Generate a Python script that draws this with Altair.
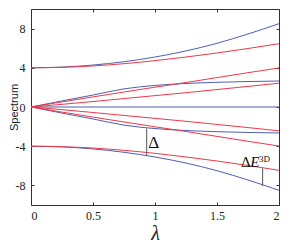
import altair as alt
import pandas as pd

# lambda grid
lam = [0, 0.25, 0.5, 0.75, 1.0, 1.25, 1.5, 1.75, 2.0]

# blue (exact) levels
blue_upper = [4.0, 4.07, 4.28, 4.62, 5.1, 5.72, 6.5, 7.45, 8.5]
blue_mid = [0.0, 0.62, 1.22, 1.85, 2.2, 2.4, 2.52, 2.6, 2.65]
blue_zero = [0, 0, 0, 0, 0, 0, 0, 0, 0]
blue_low = [0.0, -0.62, -1.22, -1.85, -2.2, -2.4, -2.52, -2.6, -2.65]
blue_bottom = [-4.0, -4.07, -4.28, -4.62, -5.1, -5.72, -6.5, -7.45, -8.5]

# red levels
red_upper = [4.0, 4.05, 4.19, 4.42, 4.73, 5.1, 5.51, 5.97, 6.46]
red_steep = [0.0, 0.52, 1.03, 1.53, 2.02, 2.5, 3.0, 3.5, 3.98]
red_mod = [0.0, 0.27, 0.56, 0.86, 1.16, 1.46, 1.78, 2.1, 2.43]
red_mod_n = [0.0, -0.27, -0.56, -0.86, -1.16, -1.46, -1.78, -2.1, -2.43]
red_steep_n = [0.0, -0.52, -1.03, -1.53, -2.02, -2.5, -3.0, -3.5, -3.98]
red_lower = [-4.0, -4.05, -4.19, -4.42, -4.73, -5.1, -5.51, -5.97, -6.46]

# annotation gaps
gap_x = [0.933, 1.868]
gap_lo = [-5.0, -8.06]
gap_hi = [-2.18, -6.26]

x_ticks = [0, 0.5, 1, 1.5, 2]
y_ticks = [-8, -4, 0, 4, 8]

BLUE = "#4f5fb3"
RED = "#ee3848"

curves = [
    ("b1", BLUE, blue_upper), ("b2", BLUE, blue_mid), ("b3", BLUE, blue_zero),
    ("b4", BLUE, blue_low), ("b5", BLUE, blue_bottom),
    ("r1", RED, red_upper), ("r2", RED, red_steep), ("r3", RED, red_mod),
    ("r4", RED, red_mod_n), ("r5", RED, red_steep_n), ("r6", RED, red_lower),
]
rows = []
for order, (cid, col, vals) in enumerate(curves):
    for xv, yv in zip(lam, vals):
        rows.append({"curve": cid, "color": col, "ord": order, "lam": xv, "E": yv})
df = pd.DataFrame(rows)

xscale = alt.Scale(domain=[0, 2], nice=False)
yscale = alt.Scale(domain=[-10, 10], nice=False)

ax_common = dict(domain=False, grid=False, tickSize=3, tickColor="#333",
                 offset=-3, labelFont="Liberation Serif", labelFontSize=12,
                 labelColor="#222")

lines = alt.Chart(df).mark_line(strokeWidth=1, interpolate="monotone").encode(
    x=alt.X("lam:Q", scale=xscale,
            axis=alt.Axis(values=x_ticks, format="~g", labelPadding=5,
                          title="λ", titleFont="Liberation Serif",
                          titleFontStyle="italic", titleFontWeight="normal",
                          titleFontSize=20, titlePadding=2, titleColor="#222",
                          **ax_common)),
    y=alt.Y("E:Q", scale=yscale,
            axis=alt.Axis(values=y_ticks, labelPadding=6,
                          labelExpr="replace(datum.label, '\u2212', '-')",
                          title="Spectrum", titleFont="Liberation Sans",
                          titleFontWeight="normal", titleFontSize=11,
                          titleX=-15, titleY=98, titleColor="#222",
                          **ax_common)),
    color=alt.Color("color:N", scale=None),
    detail="curve:N",
    order="ord:Q",
)

gaps = pd.DataFrame({"x": gap_x, "lo": gap_lo, "hi": gap_hi})
rules = alt.Chart(gaps).mark_rule(color="#555", strokeWidth=1).encode(
    x=alt.X("x:Q", scale=xscale,
            axis=alt.Axis(orient="top", values=x_ticks, labels=False, title="",
                          domain=False, grid=False, tickSize=3, tickColor="#333",
                          offset=-3)),
    y=alt.Y("lo:Q", scale=yscale,
            axis=alt.Axis(orient="right", values=y_ticks, labels=False, title="",
                          domain=False, grid=False, tickSize=3, tickColor="#333",
                          offset=-3)),
    y2="hi:Q",
)

lbl_delta = pd.DataFrame({"x": [0.945], "y": [-3.65], "t": ["Δ"]})
lbl_d2 = pd.DataFrame({"x": [1.694], "y": [-6.12], "t": ["Δ"]})
lbl_e = pd.DataFrame({"x": [1.768], "y": [-6.12], "t": ["E"]})
lbl_3d = pd.DataFrame({"x": [1.838], "y": [-5.58], "t": ["3D"]})


def text_layer(d, size, style="normal", baseline="alphabetic"):
    return alt.Chart(d).mark_text(
        align="left", baseline=baseline, font="Liberation Serif",
        fontSize=size, fontStyle=style, color="#111"
    ).encode(
        x=alt.X("x:Q", scale=xscale, axis=None),
        y=alt.Y("y:Q", scale=yscale, axis=None),
        text="t:N",
    )


chart = alt.layer(
    lines, rules,
    text_layer(lbl_delta, 17, baseline="middle"),
    text_layer(lbl_d2, 15),
    text_layer(lbl_e, 15, style="italic"),
    text_layer(lbl_3d, 9),
).resolve_axis(x="independent", y="independent").properties(
    width=248, height=196,
    autosize=alt.AutoSizeParams(type="none"),
    padding={"left": 23, "top": 1, "right": 5, "bottom": 38},
).configure_view(stroke="#333", strokeWidth=1)

chart.save("out.html", embed_options={"renderer": "svg", "actions": False})
